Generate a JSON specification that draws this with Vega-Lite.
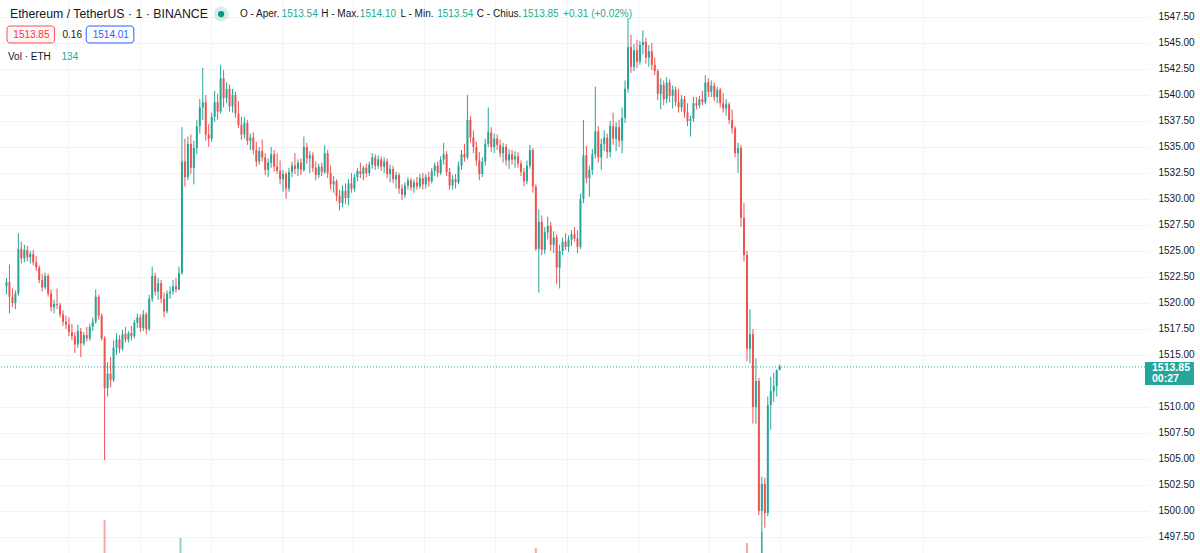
{
"$schema": "https://vega.github.io/schema/vega-lite/v6.json",
"width": 1148, "height": 553,
"autosize": {"type": "none"},
"padding": {"left": 0, "top": 0, "right": 52, "bottom": 0},
"background": "#ffffff",
"config": {"view": {"stroke": null}, "font": "Liberation Sans", "axis": {"labelOverlap": false, "labelFlush": false, "labelBound": false}},
"datasets": {
"candles": [
{"t":0,"o":1521.6,"h":1522.4,"l":1520.8,"c":1522.0},
{"t":1,"o":1522.0,"h":1523.7,"l":1519.0,"c":1520.6},
{"t":2,"o":1520.6,"h":1521.4,"l":1519.6,"c":1520.0},
{"t":3,"o":1520.0,"h":1521.2,"l":1519.4,"c":1520.9},
{"t":4,"o":1520.9,"h":1526.7,"l":1520.7,"c":1525.2},
{"t":5,"o":1525.2,"h":1525.9,"l":1523.8,"c":1524.3},
{"t":6,"o":1524.3,"h":1525.6,"l":1523.9,"c":1525.1},
{"t":7,"o":1525.1,"h":1525.5,"l":1524.0,"c":1524.4},
{"t":8,"o":1524.4,"h":1525.0,"l":1523.8,"c":1524.7},
{"t":9,"o":1524.7,"h":1525.1,"l":1523.6,"c":1523.9},
{"t":10,"o":1523.9,"h":1524.5,"l":1523.1,"c":1523.4},
{"t":11,"o":1523.4,"h":1523.6,"l":1521.9,"c":1522.2},
{"t":12,"o":1522.2,"h":1522.8,"l":1521.1,"c":1521.5},
{"t":13,"o":1521.5,"h":1522.9,"l":1521.3,"c":1522.6},
{"t":14,"o":1522.6,"h":1522.8,"l":1520.6,"c":1520.9},
{"t":15,"o":1520.9,"h":1521.3,"l":1519.2,"c":1519.6},
{"t":16,"o":1519.6,"h":1520.3,"l":1519.0,"c":1519.9},
{"t":17,"o":1519.9,"h":1521.4,"l":1519.4,"c":1519.8},
{"t":18,"o":1519.8,"h":1520.0,"l":1518.6,"c":1518.9},
{"t":19,"o":1518.9,"h":1519.3,"l":1517.8,"c":1518.2},
{"t":20,"o":1518.2,"h":1518.8,"l":1517.5,"c":1517.9},
{"t":21,"o":1517.9,"h":1518.6,"l":1516.8,"c":1517.2},
{"t":22,"o":1517.2,"h":1518.0,"l":1516.4,"c":1516.8},
{"t":23,"o":1516.8,"h":1517.2,"l":1515.2,"c":1516.0},
{"t":24,"o":1516.0,"h":1517.9,"l":1515.7,"c":1517.3},
{"t":25,"o":1517.3,"h":1517.6,"l":1514.8,"c":1516.1},
{"t":26,"o":1516.1,"h":1517.2,"l":1515.9,"c":1516.9},
{"t":27,"o":1516.9,"h":1517.7,"l":1516.3,"c":1516.6},
{"t":28,"o":1516.6,"h":1518.0,"l":1516.4,"c":1517.7},
{"t":29,"o":1517.7,"h":1518.6,"l":1517.3,"c":1518.2},
{"t":30,"o":1518.2,"h":1521.3,"l":1518.0,"c":1520.6},
{"t":31,"o":1520.6,"h":1520.8,"l":1518.4,"c":1518.8},
{"t":32,"o":1518.8,"h":1519.0,"l":1516.4,"c":1516.6},
{"t":33,"o":1516.6,"h":1516.8,"l":1504.9,"c":1511.8},
{"t":34,"o":1511.8,"h":1514.3,"l":1511.0,"c":1513.2},
{"t":35,"o":1513.2,"h":1514.8,"l":1511.9,"c":1512.6},
{"t":36,"o":1512.6,"h":1516.4,"l":1512.4,"c":1515.7},
{"t":37,"o":1515.7,"h":1517.1,"l":1515.0,"c":1516.5},
{"t":38,"o":1516.5,"h":1516.9,"l":1515.2,"c":1515.6},
{"t":39,"o":1515.6,"h":1517.4,"l":1515.4,"c":1517.0},
{"t":40,"o":1517.0,"h":1517.7,"l":1516.2,"c":1516.5},
{"t":41,"o":1516.5,"h":1517.3,"l":1516.2,"c":1517.1},
{"t":42,"o":1517.1,"h":1517.8,"l":1516.4,"c":1516.8},
{"t":43,"o":1516.8,"h":1518.4,"l":1516.6,"c":1518.1},
{"t":44,"o":1518.1,"h":1519.0,"l":1517.6,"c":1518.6},
{"t":45,"o":1518.6,"h":1518.9,"l":1517.2,"c":1517.6},
{"t":46,"o":1517.6,"h":1519.3,"l":1517.3,"c":1518.9},
{"t":47,"o":1518.9,"h":1519.1,"l":1517.0,"c":1517.5},
{"t":48,"o":1517.5,"h":1520.8,"l":1517.3,"c":1520.4},
{"t":49,"o":1520.4,"h":1523.5,"l":1520.1,"c":1522.6},
{"t":50,"o":1522.6,"h":1522.9,"l":1520.7,"c":1521.1},
{"t":51,"o":1521.1,"h":1522.4,"l":1520.3,"c":1521.9},
{"t":52,"o":1521.9,"h":1522.2,"l":1520.0,"c":1520.4},
{"t":53,"o":1520.4,"h":1521.0,"l":1518.6,"c":1519.2},
{"t":54,"o":1519.2,"h":1521.2,"l":1519.0,"c":1520.9},
{"t":55,"o":1520.9,"h":1521.6,"l":1520.4,"c":1521.1},
{"t":56,"o":1521.1,"h":1522.2,"l":1520.8,"c":1521.6},
{"t":57,"o":1521.6,"h":1522.4,"l":1521.0,"c":1521.3},
{"t":58,"o":1521.3,"h":1523.5,"l":1521.2,"c":1522.9},
{"t":59,"o":1522.9,"h":1536.9,"l":1522.7,"c":1533.6},
{"t":60,"o":1533.6,"h":1535.8,"l":1531.2,"c":1532.1},
{"t":61,"o":1532.1,"h":1536.0,"l":1531.8,"c":1535.3},
{"t":62,"o":1535.3,"h":1536.2,"l":1532.4,"c":1533.0},
{"t":63,"o":1533.0,"h":1535.6,"l":1531.4,"c":1534.9},
{"t":64,"o":1534.9,"h":1537.6,"l":1534.3,"c":1537.0},
{"t":65,"o":1537.0,"h":1539.6,"l":1536.3,"c":1538.8},
{"t":66,"o":1538.8,"h":1542.6,"l":1537.6,"c":1539.3},
{"t":67,"o":1539.3,"h":1540.0,"l":1535.6,"c":1536.2},
{"t":68,"o":1536.2,"h":1537.2,"l":1535.0,"c":1535.8},
{"t":69,"o":1535.8,"h":1538.3,"l":1535.5,"c":1537.9},
{"t":70,"o":1537.9,"h":1540.4,"l":1537.4,"c":1539.3},
{"t":71,"o":1539.3,"h":1540.1,"l":1537.6,"c":1538.4},
{"t":72,"o":1538.4,"h":1542.9,"l":1538.2,"c":1541.6},
{"t":73,"o":1541.6,"h":1542.4,"l":1538.8,"c":1539.7},
{"t":74,"o":1539.7,"h":1541.2,"l":1539.2,"c":1540.6},
{"t":75,"o":1540.6,"h":1541.0,"l":1538.4,"c":1538.9},
{"t":76,"o":1538.9,"h":1540.6,"l":1538.3,"c":1540.0},
{"t":77,"o":1540.0,"h":1540.3,"l":1537.8,"c":1538.2},
{"t":78,"o":1538.2,"h":1539.4,"l":1536.8,"c":1537.1},
{"t":79,"o":1537.1,"h":1537.9,"l":1535.7,"c":1536.2},
{"t":80,"o":1536.2,"h":1537.9,"l":1535.8,"c":1537.3},
{"t":81,"o":1537.3,"h":1537.6,"l":1535.2,"c":1535.6},
{"t":82,"o":1535.6,"h":1536.3,"l":1534.7,"c":1535.9},
{"t":83,"o":1535.9,"h":1536.4,"l":1534.3,"c":1534.7},
{"t":84,"o":1534.7,"h":1535.5,"l":1533.1,"c":1533.6},
{"t":85,"o":1533.6,"h":1535.0,"l":1533.3,"c":1534.6},
{"t":86,"o":1534.6,"h":1535.7,"l":1533.6,"c":1534.0},
{"t":87,"o":1534.0,"h":1534.4,"l":1532.3,"c":1532.8},
{"t":88,"o":1532.8,"h":1533.9,"l":1532.1,"c":1533.5},
{"t":89,"o":1533.5,"h":1535.0,"l":1533.0,"c":1534.3},
{"t":90,"o":1534.3,"h":1534.7,"l":1532.6,"c":1533.1},
{"t":91,"o":1533.1,"h":1534.4,"l":1532.4,"c":1532.7},
{"t":92,"o":1532.7,"h":1533.7,"l":1531.4,"c":1531.9},
{"t":93,"o":1531.9,"h":1532.8,"l":1530.7,"c":1532.4},
{"t":94,"o":1532.4,"h":1532.6,"l":1530.0,"c":1531.0},
{"t":95,"o":1531.0,"h":1533.0,"l":1530.7,"c":1532.6},
{"t":96,"o":1532.6,"h":1533.6,"l":1532.1,"c":1533.2},
{"t":97,"o":1533.2,"h":1534.4,"l":1532.4,"c":1532.9},
{"t":98,"o":1532.9,"h":1533.8,"l":1532.2,"c":1533.5},
{"t":99,"o":1533.5,"h":1533.9,"l":1532.3,"c":1532.8},
{"t":100,"o":1532.8,"h":1536.0,"l":1532.6,"c":1535.0},
{"t":101,"o":1535.0,"h":1535.4,"l":1533.4,"c":1533.9},
{"t":102,"o":1533.9,"h":1534.6,"l":1532.5,"c":1534.2},
{"t":103,"o":1534.2,"h":1534.5,"l":1532.6,"c":1533.0},
{"t":104,"o":1533.0,"h":1533.6,"l":1531.8,"c":1532.3},
{"t":105,"o":1532.3,"h":1533.4,"l":1532.0,"c":1533.1},
{"t":106,"o":1533.1,"h":1533.5,"l":1532.2,"c":1532.6},
{"t":107,"o":1532.6,"h":1535.2,"l":1532.4,"c":1534.4},
{"t":108,"o":1534.4,"h":1534.7,"l":1532.0,"c":1532.5},
{"t":109,"o":1532.5,"h":1533.2,"l":1530.9,"c":1531.4},
{"t":110,"o":1531.4,"h":1532.2,"l":1530.6,"c":1531.7},
{"t":111,"o":1531.7,"h":1531.9,"l":1529.8,"c":1530.3},
{"t":112,"o":1530.3,"h":1530.9,"l":1528.9,"c":1529.6},
{"t":113,"o":1529.6,"h":1531.3,"l":1529.2,"c":1530.8},
{"t":114,"o":1530.8,"h":1531.5,"l":1529.5,"c":1530.1},
{"t":115,"o":1530.1,"h":1531.9,"l":1529.4,"c":1531.5},
{"t":116,"o":1531.5,"h":1532.5,"l":1530.6,"c":1531.0},
{"t":117,"o":1531.0,"h":1532.4,"l":1530.7,"c":1532.1},
{"t":118,"o":1532.1,"h":1533.0,"l":1531.7,"c":1532.7},
{"t":119,"o":1532.7,"h":1533.5,"l":1532.0,"c":1532.4},
{"t":120,"o":1532.4,"h":1533.2,"l":1531.8,"c":1533.0},
{"t":121,"o":1533.0,"h":1533.4,"l":1532.1,"c":1532.5},
{"t":122,"o":1532.5,"h":1533.6,"l":1532.2,"c":1533.3},
{"t":123,"o":1533.3,"h":1534.4,"l":1532.9,"c":1534.0},
{"t":124,"o":1534.0,"h":1534.3,"l":1532.8,"c":1533.2},
{"t":125,"o":1533.2,"h":1534.2,"l":1532.9,"c":1533.8},
{"t":126,"o":1533.8,"h":1534.1,"l":1532.7,"c":1533.1},
{"t":127,"o":1533.1,"h":1534.0,"l":1532.5,"c":1533.6},
{"t":128,"o":1533.6,"h":1533.9,"l":1532.0,"c":1532.4},
{"t":129,"o":1532.4,"h":1533.3,"l":1531.6,"c":1532.9},
{"t":130,"o":1532.9,"h":1533.2,"l":1531.5,"c":1531.9},
{"t":131,"o":1531.9,"h":1532.6,"l":1531.0,"c":1532.3},
{"t":132,"o":1532.3,"h":1532.5,"l":1530.5,"c":1531.0},
{"t":133,"o":1531.0,"h":1531.4,"l":1529.9,"c":1530.4},
{"t":134,"o":1530.4,"h":1531.6,"l":1530.1,"c":1531.3},
{"t":135,"o":1531.3,"h":1532.1,"l":1530.9,"c":1531.8},
{"t":136,"o":1531.8,"h":1532.0,"l":1530.8,"c":1531.1},
{"t":137,"o":1531.1,"h":1531.9,"l":1530.6,"c":1531.6},
{"t":138,"o":1531.6,"h":1532.1,"l":1530.9,"c":1531.2},
{"t":139,"o":1531.2,"h":1532.4,"l":1531.0,"c":1532.0},
{"t":140,"o":1532.0,"h":1532.5,"l":1530.9,"c":1531.4},
{"t":141,"o":1531.4,"h":1532.4,"l":1531.0,"c":1532.1},
{"t":142,"o":1532.1,"h":1532.6,"l":1531.2,"c":1531.7},
{"t":143,"o":1531.7,"h":1533.0,"l":1531.5,"c":1532.7},
{"t":144,"o":1532.7,"h":1533.5,"l":1532.2,"c":1533.2},
{"t":145,"o":1533.2,"h":1533.6,"l":1532.1,"c":1532.5},
{"t":146,"o":1532.5,"h":1534.1,"l":1532.3,"c":1533.8},
{"t":147,"o":1533.8,"h":1535.4,"l":1533.3,"c":1534.3},
{"t":148,"o":1534.3,"h":1534.6,"l":1532.2,"c":1532.6},
{"t":149,"o":1532.6,"h":1533.0,"l":1530.9,"c":1531.3},
{"t":150,"o":1531.3,"h":1532.3,"l":1530.9,"c":1531.9},
{"t":151,"o":1531.9,"h":1532.4,"l":1531.0,"c":1531.6},
{"t":152,"o":1531.6,"h":1533.6,"l":1531.4,"c":1533.2},
{"t":153,"o":1533.2,"h":1534.7,"l":1532.8,"c":1534.3},
{"t":154,"o":1534.3,"h":1535.3,"l":1533.6,"c":1534.0},
{"t":155,"o":1534.0,"h":1540.0,"l":1533.8,"c":1537.6},
{"t":156,"o":1537.6,"h":1538.0,"l":1535.4,"c":1535.9},
{"t":157,"o":1535.9,"h":1536.6,"l":1534.4,"c":1535.0},
{"t":158,"o":1535.0,"h":1535.5,"l":1533.2,"c":1533.7},
{"t":159,"o":1533.7,"h":1534.5,"l":1531.8,"c":1532.4},
{"t":160,"o":1532.4,"h":1534.0,"l":1532.1,"c":1533.6},
{"t":161,"o":1533.6,"h":1535.8,"l":1533.2,"c":1535.3},
{"t":162,"o":1535.3,"h":1538.8,"l":1535.0,"c":1536.4},
{"t":163,"o":1536.4,"h":1536.9,"l":1534.5,"c":1535.0},
{"t":164,"o":1535.0,"h":1536.3,"l":1534.4,"c":1535.8},
{"t":165,"o":1535.8,"h":1536.2,"l":1534.7,"c":1535.2},
{"t":166,"o":1535.2,"h":1535.7,"l":1534.0,"c":1534.4},
{"t":167,"o":1534.4,"h":1535.4,"l":1533.5,"c":1535.0},
{"t":168,"o":1535.0,"h":1535.3,"l":1533.2,"c":1533.7},
{"t":169,"o":1533.7,"h":1534.8,"l":1532.9,"c":1534.3},
{"t":170,"o":1534.3,"h":1534.7,"l":1533.3,"c":1533.8},
{"t":171,"o":1533.8,"h":1534.6,"l":1533.0,"c":1534.1},
{"t":172,"o":1534.1,"h":1534.5,"l":1533.0,"c":1533.4},
{"t":173,"o":1533.4,"h":1533.7,"l":1532.2,"c":1532.6},
{"t":174,"o":1532.6,"h":1533.0,"l":1531.2,"c":1531.7},
{"t":175,"o":1531.7,"h":1533.7,"l":1531.4,"c":1533.2},
{"t":176,"o":1533.2,"h":1535.2,"l":1532.9,"c":1534.7},
{"t":177,"o":1534.7,"h":1534.9,"l":1530.6,"c":1531.2},
{"t":178,"o":1531.2,"h":1531.4,"l":1525.0,"c":1525.2},
{"t":179,"o":1525.2,"h":1529.0,"l":1521.0,"c":1527.8},
{"t":180,"o":1527.8,"h":1528.4,"l":1524.6,"c":1525.1},
{"t":181,"o":1525.1,"h":1527.3,"l":1524.7,"c":1526.8},
{"t":182,"o":1526.8,"h":1528.3,"l":1526.1,"c":1527.4},
{"t":183,"o":1527.4,"h":1527.8,"l":1525.0,"c":1525.6},
{"t":184,"o":1525.6,"h":1526.9,"l":1524.8,"c":1526.3},
{"t":185,"o":1526.3,"h":1526.6,"l":1521.8,"c":1523.4},
{"t":186,"o":1523.4,"h":1525.6,"l":1521.4,"c":1525.0},
{"t":187,"o":1525.0,"h":1526.3,"l":1524.6,"c":1525.9},
{"t":188,"o":1525.9,"h":1526.7,"l":1525.1,"c":1525.4},
{"t":189,"o":1525.4,"h":1526.5,"l":1524.9,"c":1526.1},
{"t":190,"o":1526.1,"h":1527.0,"l":1525.5,"c":1526.6},
{"t":191,"o":1526.6,"h":1527.3,"l":1525.9,"c":1526.2},
{"t":192,"o":1526.2,"h":1527.0,"l":1524.8,"c":1525.4},
{"t":193,"o":1525.4,"h":1530.5,"l":1525.2,"c":1530.0},
{"t":194,"o":1530.0,"h":1537.6,"l":1529.6,"c":1534.2},
{"t":195,"o":1534.2,"h":1535.1,"l":1531.5,"c":1532.0},
{"t":196,"o":1532.0,"h":1533.2,"l":1530.2,"c":1532.8},
{"t":197,"o":1532.8,"h":1534.8,"l":1532.3,"c":1534.3},
{"t":198,"o":1534.3,"h":1540.8,"l":1533.9,"c":1536.5},
{"t":199,"o":1536.5,"h":1537.0,"l":1533.5,"c":1534.0},
{"t":200,"o":1534.0,"h":1535.8,"l":1532.8,"c":1535.3},
{"t":201,"o":1535.3,"h":1536.6,"l":1534.6,"c":1535.9},
{"t":202,"o":1535.9,"h":1536.3,"l":1533.9,"c":1534.5},
{"t":203,"o":1534.5,"h":1537.5,"l":1534.0,"c":1537.0},
{"t":204,"o":1537.0,"h":1538.3,"l":1535.2,"c":1535.8},
{"t":205,"o":1535.8,"h":1537.4,"l":1534.6,"c":1536.9},
{"t":206,"o":1536.9,"h":1537.6,"l":1535.0,"c":1535.6},
{"t":207,"o":1535.6,"h":1538.8,"l":1534.4,"c":1537.8},
{"t":208,"o":1537.8,"h":1541.4,"l":1537.3,"c":1540.6},
{"t":209,"o":1540.6,"h":1547.4,"l":1540.2,"c":1544.6},
{"t":210,"o":1544.6,"h":1545.8,"l":1542.1,"c":1542.7},
{"t":211,"o":1542.7,"h":1544.9,"l":1542.3,"c":1544.3},
{"t":212,"o":1544.3,"h":1545.3,"l":1542.6,"c":1543.2},
{"t":213,"o":1543.2,"h":1545.2,"l":1542.9,"c":1544.8},
{"t":214,"o":1544.8,"h":1546.2,"l":1543.9,"c":1545.1},
{"t":215,"o":1545.1,"h":1545.5,"l":1543.0,"c":1543.6},
{"t":216,"o":1543.6,"h":1544.8,"l":1542.7,"c":1544.2},
{"t":217,"o":1544.2,"h":1545.0,"l":1542.4,"c":1542.9},
{"t":218,"o":1542.9,"h":1543.6,"l":1541.9,"c":1542.3},
{"t":219,"o":1542.3,"h":1542.5,"l":1539.5,"c":1540.1},
{"t":220,"o":1540.1,"h":1541.6,"l":1538.6,"c":1541.0},
{"t":221,"o":1541.0,"h":1541.4,"l":1539.0,"c":1539.6},
{"t":222,"o":1539.6,"h":1541.7,"l":1539.2,"c":1541.2},
{"t":223,"o":1541.2,"h":1541.5,"l":1539.3,"c":1539.9},
{"t":224,"o":1539.9,"h":1540.9,"l":1538.7,"c":1540.5},
{"t":225,"o":1540.5,"h":1540.8,"l":1538.9,"c":1539.3},
{"t":226,"o":1539.3,"h":1540.6,"l":1538.3,"c":1538.8},
{"t":227,"o":1538.8,"h":1540.0,"l":1538.4,"c":1539.6},
{"t":228,"o":1539.6,"h":1539.9,"l":1537.8,"c":1538.3},
{"t":229,"o":1538.3,"h":1539.2,"l":1537.0,"c":1537.5},
{"t":230,"o":1537.5,"h":1538.0,"l":1536.0,"c":1537.7},
{"t":231,"o":1537.7,"h":1539.8,"l":1537.4,"c":1539.2},
{"t":232,"o":1539.2,"h":1539.8,"l":1538.6,"c":1539.0},
{"t":233,"o":1539.0,"h":1539.9,"l":1538.7,"c":1539.6},
{"t":234,"o":1539.6,"h":1540.4,"l":1539.0,"c":1539.3},
{"t":235,"o":1539.3,"h":1541.9,"l":1539.1,"c":1541.2},
{"t":236,"o":1541.2,"h":1541.6,"l":1539.8,"c":1540.3},
{"t":237,"o":1540.3,"h":1541.4,"l":1539.8,"c":1540.9},
{"t":238,"o":1540.9,"h":1541.2,"l":1539.4,"c":1539.8},
{"t":239,"o":1539.8,"h":1540.8,"l":1539.2,"c":1540.5},
{"t":240,"o":1540.5,"h":1540.7,"l":1538.8,"c":1539.2},
{"t":241,"o":1539.2,"h":1540.2,"l":1538.3,"c":1538.7},
{"t":242,"o":1538.7,"h":1539.6,"l":1538.0,"c":1539.1},
{"t":243,"o":1539.1,"h":1539.3,"l":1537.2,"c":1537.6},
{"t":244,"o":1537.6,"h":1538.6,"l":1536.3,"c":1536.8},
{"t":245,"o":1536.8,"h":1537.0,"l":1534.0,"c":1534.4},
{"t":246,"o":1534.4,"h":1535.4,"l":1532.5,"c":1534.9},
{"t":247,"o":1534.9,"h":1535.2,"l":1527.3,"c":1528.2},
{"t":248,"o":1528.2,"h":1529.6,"l":1524.0,"c":1524.6},
{"t":249,"o":1524.6,"h":1525.0,"l":1514.4,"c":1515.6},
{"t":250,"o":1515.6,"h":1519.4,"l":1514.2,"c":1517.0},
{"t":251,"o":1517.0,"h":1517.5,"l":1508.4,"c":1510.0},
{"t":252,"o":1510.0,"h":1514.7,"l":1508.4,"c":1512.5},
{"t":253,"o":1512.5,"h":1512.8,"l":1499.6,"c":1500.0},
{"t":254,"o":1500.0,"h":1503.3,"l":1495.0,"c":1502.6},
{"t":255,"o":1502.6,"h":1503.2,"l":1498.4,"c":1499.8},
{"t":256,"o":1499.8,"h":1511.0,"l":1499.5,"c":1510.2},
{"t":257,"o":1510.2,"h":1512.9,"l":1507.8,"c":1511.5},
{"t":258,"o":1511.5,"h":1513.3,"l":1510.5,"c":1512.0},
{"t":259,"o":1512.0,"h":1513.6,"l":1511.0,"c":1513.54},
{"t":260,"o":1513.54,"h":1514.1,"l":1513.54,"c":1513.85}
],
"vol": [
{"t":33,"v":600,"d":"down"},
{"t":58.5,"v":270,"d":"up"},
{"t":178,"v":90,"d":"down"},
{"t":249,"v":180,"d":"down"},
{"t":254,"v":380,"d":"up"}
],
"notes": [
{"kind":"title","txt":"Ethereum / TetherUS · 1 · BINANCE","t":1.17,"p":1547.78},
{"kind":"lab","txt":"O - Aper.","t":78.5,"p":1547.78},
{"kind":"val","txt":"1513.54","t":92.5,"p":1547.78},
{"kind":"lab","txt":"H - Max.","t":105.83,"p":1547.78},
{"kind":"val","txt":"1514.10","t":118.83,"p":1547.78},
{"kind":"lab","txt":"L - Min.","t":132.5,"p":1547.78},
{"kind":"val","txt":"1513.54","t":144.83,"p":1547.78},
{"kind":"lab","txt":"C - Chius.","t":158.17,"p":1547.78},
{"kind":"val","txt":"1513.85","t":173.5,"p":1547.78},
{"kind":"val","txt":"+0.31 (+0.02%)","t":187.17,"p":1547.78},
{"kind":"red","txt":"1513.85","t":2.3,"p":1545.8},
{"kind":"lab","txt":"0.16","t":18.83,"p":1545.8},
{"kind":"blue","txt":"1514.01","t":29.0,"p":1545.8},
{"kind":"lab","txt":"Vol · ETH","t":0.5,"p":1543.65},
{"kind":"val","txt":"134","t":18.5,"p":1543.65},
{"kind":"pt","txt":"1513.85","t":385.2,"p":1513.75},
{"kind":"pt","txt":"00:27","t":385.2,"p":1512.65}
],
"boxes": [
{"kind":"rbox","t":0.17,"t2":16.17,"p":1546.63,"p2":1545.0},
{"kind":"bbox","t":26.83,"t2":42.83,"p":1546.63,"p2":1545.0},
{"kind":"pbox","t":382.83,"t2":399.3,"p":1514.32,"p2":1512.11}
],
"dot": [{"t":72.17,"p":1547.78}],
"last": [{"p":1513.85}]
},
"layer": [
{
"layer": [
{
"data": {"name": "candles"},
"mark": {"type": "rule", "strokeWidth": 1},
"encoding": {
"x": {"field": "t", "type": "quantitative", "scale": {"domain": [-0.5, 382.17], "nice": false, "zero": false},
"axis": {"values": [20.83, 44.77, 68.7, 92.63, 116.57, 140.5, 164.43, 188.37, 212.3, 236.23, 260.17, 284.1, 308.03], "tickCount": 40, "grid": true, "gridColor": "#f0f3fa", "gridWidth": 1, "labels": false, "ticks": false, "domain": false, "title": null}},
"y": {"field": "l", "type": "quantitative", "scale": {"domain": [1495.96, 1549.13], "nice": false, "zero": false},
"axis": {"orient": "right", "values": [1497.5, 1500, 1502.5, 1505, 1507.5, 1510, 1515, 1517.5, 1520, 1522.5, 1525, 1527.5, 1530, 1532.5, 1535, 1537.5, 1540, 1542.5, 1545, 1547.5], "tickCount": 40, "format": ".2f", "grid": true, "gridColor": "#f0f3fa", "gridWidth": 1, "domain": false, "ticks": false, "labelPadding": 10, "labelFontSize": 10, "labelColor": "#131722", "labelFont": "Liberation Sans", "labelAlign": "left", "labelBaseline": "middle", "labelOverlap": false, "labelFlush": false, "labelBound": false, "title": null}},
"y2": {"field": "h"},
"color": {"condition": {"test": "datum.c >= datum.o", "value": "#26a69a"}, "value": "#ef5350"}
}
},
{
"data": {"name": "candles"},
"mark": {"type": "bar", "size": 2},
"encoding": {
"x": {"field": "t", "type": "quantitative", "scale": {"domain": [-0.5, 382.17], "nice": false, "zero": false}},
"y": {"field": "o", "type": "quantitative", "scale": {"domain": [1495.96, 1549.13], "nice": false, "zero": false}},
"y2": {"field": "c"},
"color": {"condition": {"test": "datum.c >= datum.o", "value": "#26a69a"}, "value": "#ef5350"}
}
},
{
"data": {"name": "last"},
"mark": {"type": "rule", "strokeDash": [1, 2], "strokeWidth": 1, "color": "#26a69a"},
"encoding": {
"y": {"field": "p", "type": "quantitative", "scale": {"domain": [1495.96, 1549.13], "nice": false, "zero": false}}
}
},
{
"data": {"name": "boxes"},
"transform": [{"filter": "datum.kind === 'rbox'"}],
"mark": {"type": "rect", "stroke": "#f7525f", "strokeWidth": 1, "fill": "#fff6f6", "cornerRadius": 3},
"encoding": {
"x": {"field": "t", "type": "quantitative", "scale": {"domain": [-0.5, 382.17], "nice": false, "zero": false}},
"x2": {"field": "t2"},
"y": {"field": "p", "type": "quantitative", "scale": {"domain": [1495.96, 1549.13], "nice": false, "zero": false}},
"y2": {"field": "p2"}
}
},
{
"data": {"name": "boxes"},
"transform": [{"filter": "datum.kind === 'bbox'"}],
"mark": {"type": "rect", "stroke": "#2962ff", "strokeWidth": 1, "fill": "#ffffff", "cornerRadius": 3},
"encoding": {
"x": {"field": "t", "type": "quantitative", "scale": {"domain": [-0.5, 382.17], "nice": false, "zero": false}},
"x2": {"field": "t2"},
"y": {"field": "p", "type": "quantitative", "scale": {"domain": [1495.96, 1549.13], "nice": false, "zero": false}},
"y2": {"field": "p2"}
}
},
{
"data": {"name": "boxes"},
"transform": [{"filter": "datum.kind === 'pbox'"}],
"mark": {"type": "rect", "fill": "#26a69a", "clip": false},
"encoding": {
"x": {"field": "t", "type": "quantitative", "scale": {"domain": [-0.5, 382.17], "nice": false, "zero": false}},
"x2": {"field": "t2"},
"y": {"field": "p", "type": "quantitative", "scale": {"domain": [1495.96, 1549.13], "nice": false, "zero": false}},
"y2": {"field": "p2"}
}
},
{
"data": {"name": "dot"},
"mark": {"type": "point", "filled": true, "size": 220, "color": "#26a69a", "opacity": 0.18},
"encoding": {
"x": {"field": "t", "type": "quantitative", "scale": {"domain": [-0.5, 382.17], "nice": false, "zero": false}},
"y": {"field": "p", "type": "quantitative", "scale": {"domain": [1495.96, 1549.13], "nice": false, "zero": false}}
}
},
{
"data": {"name": "dot"},
"mark": {"type": "point", "filled": true, "size": 40, "color": "#089981", "opacity": 1},
"encoding": {
"x": {"field": "t", "type": "quantitative", "scale": {"domain": [-0.5, 382.17], "nice": false, "zero": false}},
"y": {"field": "p", "type": "quantitative", "scale": {"domain": [1495.96, 1549.13], "nice": false, "zero": false}}
}
},
{
"data": {"name": "notes"},
"transform": [{"filter": "datum.kind === 'title'"}],
"mark": {"type": "text", "align": "left", "baseline": "middle", "fontSize": 12.3, "font": "Liberation Sans", "color": "#131722"},
"encoding": {
"x": {"field": "t", "type": "quantitative", "scale": {"domain": [-0.5, 382.17], "nice": false, "zero": false}},
"y": {"field": "p", "type": "quantitative", "scale": {"domain": [1495.96, 1549.13], "nice": false, "zero": false}},
"text": {"field": "txt"}
}
},
{
"data": {"name": "notes"},
"transform": [{"filter": "datum.kind !== 'title' && datum.kind !== 'pt'"}],
"mark": {"type": "text", "align": "left", "baseline": "middle", "fontSize": 10, "font": "Liberation Sans"},
"encoding": {
"x": {"field": "t", "type": "quantitative", "scale": {"domain": [-0.5, 382.17], "nice": false, "zero": false}},
"y": {"field": "p", "type": "quantitative", "scale": {"domain": [1495.96, 1549.13], "nice": false, "zero": false}},
"text": {"field": "txt"},
"color": {"field": "kind", "type": "nominal", "scale": {"domain": ["lab", "val", "red", "blue"], "range": ["#131722", "#22ab94", "#f23645", "#2962ff"]}, "legend": null}
}
},
{
"data": {"name": "notes"},
"transform": [{"filter": "datum.kind === 'pt'"}],
"mark": {"type": "text", "align": "left", "baseline": "middle", "fontSize": 10.5, "font": "Liberation Sans", "color": "#ffffff", "fontWeight": "bold", "clip": false},
"encoding": {
"x": {"field": "t", "type": "quantitative", "scale": {"domain": [-0.5, 382.17], "nice": false, "zero": false}},
"y": {"field": "p", "type": "quantitative", "scale": {"domain": [1495.96, 1549.13], "nice": false, "zero": false}},
"text": {"field": "txt"}
}
}
]
},
{
"data": {"name": "vol"},
"mark": {"type": "bar", "size": 2, "opacity": 0.5},
"encoding": {
"x": {"field": "t", "type": "quantitative", "scale": {"domain": [-0.5, 382.17], "nice": false, "zero": false}},
"y": {"field": "v", "type": "quantitative", "scale": {"domain": [0, 10000], "nice": false}, "axis": null},
"color": {"condition": {"test": "datum.d === 'up'", "value": "#26a69a"}, "value": "#ef5350"}
}
}
],
"resolve": {"scale": {"y": "independent"}}
}
